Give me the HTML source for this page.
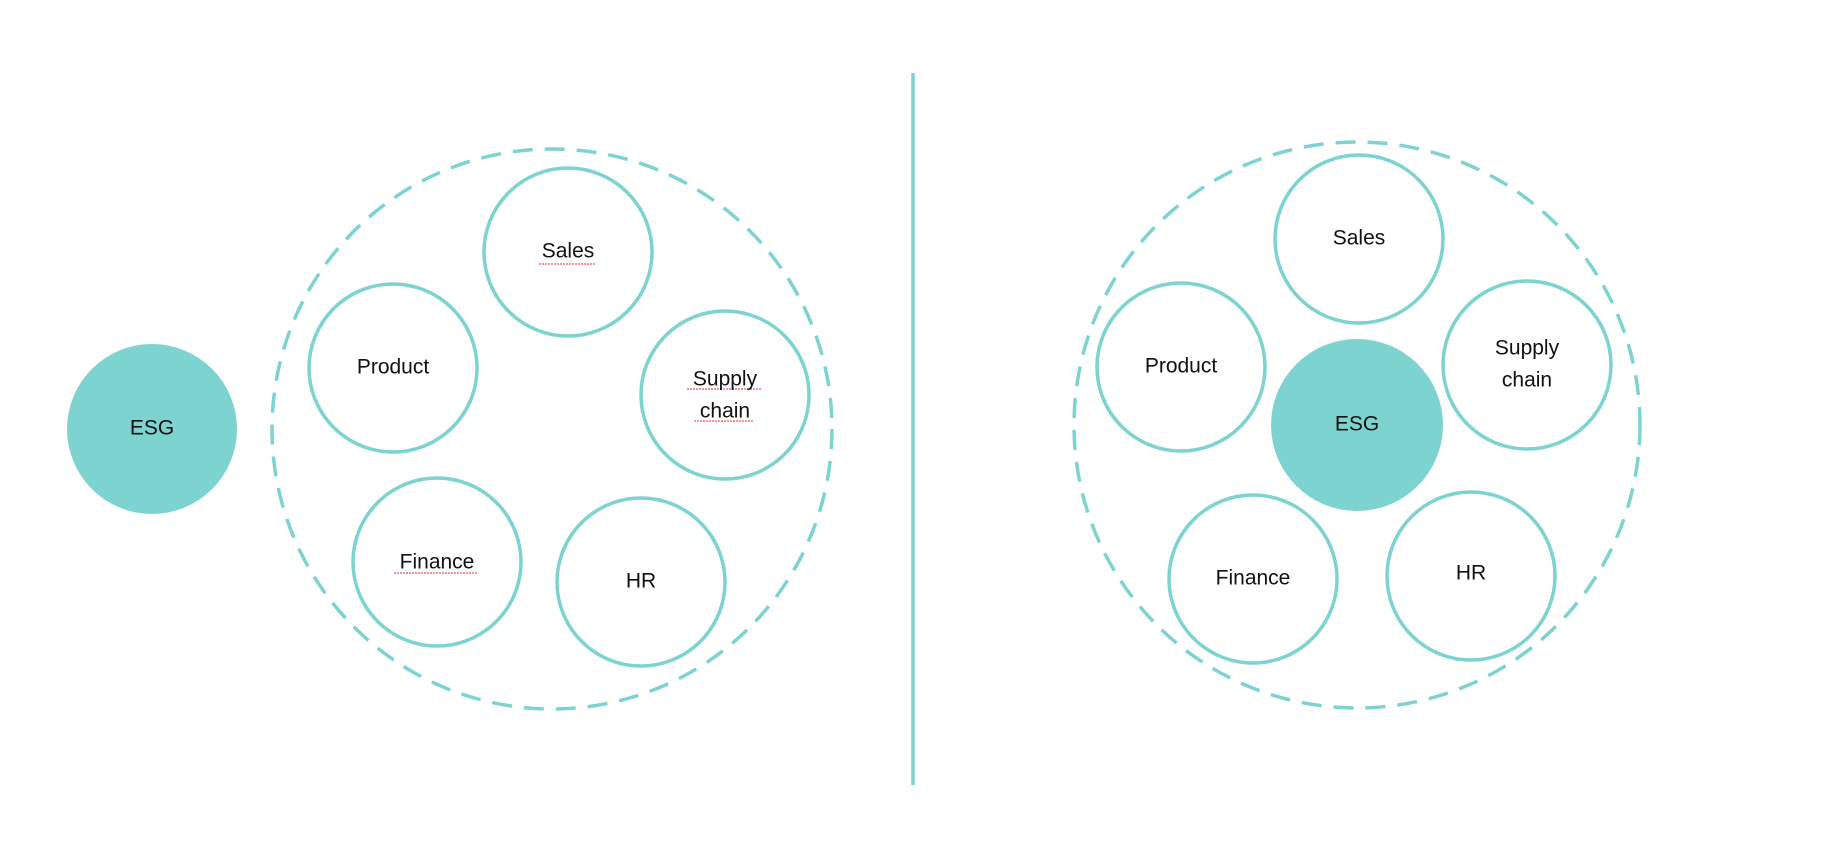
<!DOCTYPE html>
<html><head><style>
html,body{margin:0;padding:0;background:#fff;}
svg{display:block;}
text{font-family:"Liberation Sans",sans-serif;font-size:21px;fill:#111;text-anchor:middle;dominant-baseline:middle;}
</style></head><body>
<svg width="1827" height="863" viewBox="0 0 1827 863">
<g fill="none" stroke="#7dd3d0" stroke-width="3.5">
<circle cx="552" cy="429" r="280" stroke-dasharray="20 12"/>
<circle cx="1357" cy="425" r="283" stroke-dasharray="20 12"/>
<circle cx="568" cy="252" r="84" fill="#fff"/>
<circle cx="393" cy="368" r="84" fill="#fff"/>
<circle cx="725" cy="395" r="84" fill="#fff"/>
<circle cx="437" cy="562" r="84" fill="#fff"/>
<circle cx="641" cy="582" r="84" fill="#fff"/>
<circle cx="1359" cy="239" r="84" fill="#fff"/>
<circle cx="1181" cy="367" r="84" fill="#fff"/>
<circle cx="1527" cy="365" r="84" fill="#fff"/>
<circle cx="1253" cy="579" r="84" fill="#fff"/>
<circle cx="1471" cy="576" r="84" fill="#fff"/>
<line x1="913" y1="73" x2="913" y2="785"/>
</g>
<circle cx="152" cy="429" r="85" fill="#7dd3d0"/>
<circle cx="1357" cy="425" r="86" fill="#7dd3d0"/>
<g stroke="#e03030" stroke-width="1" fill="none" stroke-dasharray="2 1">
<line x1="539" y1="264" x2="595" y2="264"/>
<line x1="687" y1="389" x2="761" y2="389"/>
<line x1="694" y1="421" x2="754" y2="421"/>
<line x1="394" y1="573" x2="478" y2="573"/>
</g>
<text x="152" y="429">ESG</text>
<text x="568" y="252">Sales</text>
<text x="393" y="368">Product</text>
<text x="725" y="380">Supply</text>
<text x="725" y="412">chain</text>
<text x="437" y="563">Finance</text>
<text x="641" y="582">HR</text>
<text x="1359" y="239">Sales</text>
<text x="1181" y="367">Product</text>
<text x="1527" y="349">Supply</text>
<text x="1527" y="381">chain</text>
<text x="1357" y="425">ESG</text>
<text x="1253" y="579">Finance</text>
<text x="1471" y="574">HR</text>
</svg>
</body></html>
